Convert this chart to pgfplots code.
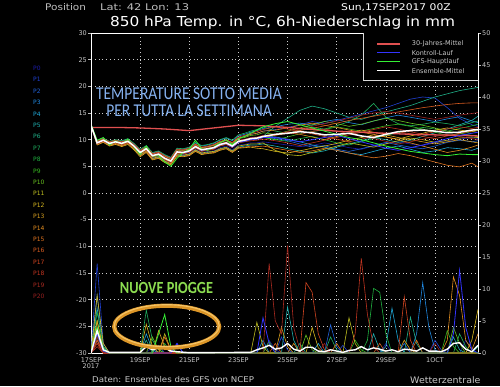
\documentclass[border=0pt]{standalone}
\usepackage{fontspec}
\setmainfont{DejaVu Sans}
\newfontfamily\carlito{Carlito}
\usepackage{pgfplots}
\usepackage{pgfplotstable}
\pgfplotsset{compat=1.18}
\definecolor{p0}{HTML}{1C1CA8}
\definecolor{p1}{HTML}{2040D0}
\definecolor{p2}{HTML}{2062D8}
\definecolor{p3}{HTML}{2088E0}
\definecolor{p4}{HTML}{20A8D8}
\definecolor{p5}{HTML}{20B0B0}
\definecolor{p6}{HTML}{20B088}
\definecolor{p7}{HTML}{20B060}
\definecolor{p8}{HTML}{20B040}
\definecolor{p9}{HTML}{38B820}
\definecolor{p10}{HTML}{68C020}
\definecolor{p11}{HTML}{C0C020}
\definecolor{p12}{HTML}{D8B820}
\definecolor{p13}{HTML}{D8A020}
\definecolor{p14}{HTML}{E08C20}
\definecolor{p15}{HTML}{E07420}
\definecolor{p16}{HTML}{D85C20}
\definecolor{p17}{HTML}{D04420}
\definecolor{p18}{HTML}{C03420}
\definecolor{p19}{HTML}{A82A20}
\definecolor{p20}{HTML}{982020}
\definecolor{ctl}{HTML}{3434FF}
\definecolor{gfs}{HTML}{34F034}
\definecolor{clim}{HTML}{E05050}
\definecolor{ellor}{HTML}{DC9628}
\definecolor{ellhi}{HTML}{F4C468}
\definecolor{tblue}{HTML}{86B2F0}
\definecolor{tgreen}{HTML}{8CDC50}
\definecolor{lgray}{HTML}{C8C8C8}

\pgfplotstableread{
d m0 m1 m2 m3 m4 m5 m6 m7 m8 m9 m10 m11 m12 m13 m14 m15 m16 m17 m18 m19 m20 c g e
0 12.7 12.7 12.7 12.7 12.7 12.7 12.7 12.7 12.7 12.7 12.7 12.7 12.7 12.7 12.7 12.7 12.7 12.7 12.7 12.7 12.7 12.7 12.9 12.7
0.25 9.2 9.5 9.3 9.6 9.4 9.1 9.5 9.8 9.3 9.4 9.6 9.2 9.0 9.3 9.5 9.1 9.4 9.7 9.3 9.2 9.5 9.4 9.9 9.4
0.5 9.7 10.0 9.8 10.1 9.9 9.6 10.2 10.3 9.8 9.9 10.0 9.7 9.5 9.8 10.1 9.6 9.9 10.2 9.7 9.8 10.0 9.9 10.4 9.9
0.75 9.1 9.5 9.2 9.6 9.3 9.0 9.4 9.7 9.2 9.1 9.5 9.0 8.8 9.2 9.4 8.9 9.3 9.6 9.1 9.3 9.4 9.2 9.0 9.3
1 9.4 9.8 9.5 9.9 9.7 9.3 9.6 10.0 9.4 9.5 9.8 9.3 9.1 9.5 9.7 9.2 9.6 9.9 9.4 9.6 9.8 9.6 9.8 9.6
1.25 9.0 9.6 9.2 9.7 9.4 8.9 9.3 9.8 9.1 9.2 9.5 8.9 8.7 9.1 9.5 8.8 9.3 9.6 9.0 9.3 9.4 9.3 9.2 9.3
1.5 9.5 9.9 9.6 10.1 9.8 9.3 9.7 10.2 9.5 9.6 9.9 9.4 9.1 9.6 9.8 9.3 9.7 10.0 9.4 9.7 9.9 9.7 10.1 9.7
1.75 8.5 9.1 8.7 9.2 8.9 8.3 8.8 9.3 8.6 8.7 9.0 8.4 8.1 8.6 9.0 8.3 8.8 9.1 8.5 8.9 9.0 8.8 8.6 8.8
2 7.3 7.9 7.5 8.0 7.7 7.1 7.6 8.2 7.4 7.5 7.8 7.2 6.8 7.4 7.9 7.0 7.6 8.0 7.3 7.7 7.8 7.6 7.2 7.6
2.25 8.0 8.6 8.2 8.8 8.4 7.8 8.3 8.9 8.1 8.2 8.5 7.9 7.6 8.1 8.6 7.7 8.3 8.7 8.0 8.4 8.5 8.3 8.8 8.3
2.5 6.6 7.3 6.9 7.5 7.1 6.4 7.0 7.6 6.8 6.9 7.2 6.5 6.2 6.8 7.3 6.3 7.0 7.4 6.7 7.1 7.2 7.0 6.9 7.0
2.75 6.9 7.6 7.2 7.8 7.4 6.7 7.3 7.9 7.1 7.2 7.5 6.8 6.5 7.1 7.6 6.6 7.3 7.7 7.0 7.4 7.5 7.3 7.0 7.3
3 6.1 6.9 6.4 7.1 6.6 5.9 6.5 7.2 6.3 6.4 6.8 6.0 5.7 6.3 6.9 5.8 6.5 7.0 6.2 6.6 6.7 6.5 5.8 6.5
3.25 5.6 6.4 5.9 6.6 6.1 5.4 6.0 6.7 5.8 5.9 6.3 5.5 5.3 5.8 6.4 5.4 6.0 6.5 5.7 6.1 6.2 6.0 5.0 6.0
3.5 7.3 8.1 7.6 8.3 7.8 7.1 7.7 8.4 7.5 7.6 8.0 7.2 6.9 7.5 8.1 7.0 7.7 8.2 7.4 7.8 7.9 7.7 6.5 7.7
3.75 7.2 8.0 7.5 8.2 7.7 7.0 7.6 8.3 7.4 7.5 7.9 7.1 6.8 7.4 8.0 6.9 7.6 8.1 7.3 7.7 7.8 7.5 7.6 7.6
4 7.4 8.3 7.8 8.5 8.0 7.2 7.9 8.6 7.7 7.8 8.2 7.3 7.0 7.7 8.3 7.1 7.9 8.4 7.6 8.0 8.1 7.8 8.2 7.9
4.25 8.2 9.1 8.6 9.4 8.8 8.0 8.7 9.5 8.5 8.6 9.0 8.1 7.8 8.5 9.1 7.9 8.7 9.2 8.4 8.8 8.9 8.7 9.9 8.7
4.5 7.6 8.5 8.0 8.8 8.2 7.4 8.1 8.9 7.9 8.0 8.4 7.5 7.2 7.9 8.5 7.3 8.1 8.6 7.8 8.2 8.3 8.0 8.3 8.1
4.75 7.8 8.7 8.2 9.0 8.4 7.6 8.3 9.1 8.1 8.2 8.6 7.7 7.4 8.1 8.7 7.5 8.3 8.8 8.0 8.4 8.5 8.2 8.0 8.3
5 7.9 9.0 8.4 9.3 8.6 7.7 8.5 9.4 8.3 8.4 8.9 7.8 7.5 8.3 9.0 7.6 8.5 9.1 8.2 8.6 8.7 8.4 8.6 8.5
5.25 8.5 9.6 9.0 9.9 9.2 8.2 9.1 10.0 8.9 9.0 9.5 8.3 8.0 8.9 9.6 8.1 9.1 9.7 8.8 9.2 9.3 9.0 9.4 9.1
5.5 8.8 9.9 9.3 10.3 9.5 8.5 9.4 10.4 9.2 9.3 9.8 8.6 8.3 9.2 9.9 8.4 9.4 10.0 9.1 9.5 9.6 9.3 10.0 9.4
5.75 8.1 9.4 8.7 9.8 8.9 7.8 8.8 9.9 8.6 8.7 9.2 7.9 7.6 8.6 9.4 7.7 8.8 9.5 8.5 8.9 9.0 8.6 9.0 8.8
6 9.0 10.3 9.6 10.7 9.8 8.6 9.7 10.9 9.5 9.6 10.2 8.8 8.4 9.5 10.3 8.5 9.7 10.5 9.4 9.8 9.9 9.5 10.2 9.7
6.25 9.1 10.6 9.8 11.0 10.0 8.8 9.9 11.2 9.7 9.8 10.4 9.0 8.5 9.7 10.6 8.6 9.9 10.8 9.6 10.0 10.1 9.7 10.6 9.9
6.5 9.4 11.0 10.1 11.4 10.3 9.0 10.2 11.6 10.0 10.1 10.8 9.2 8.6 10.0 11.0 8.8 10.2 11.2 9.8 10.3 10.4 10.0 11.2 10.2
6.75 9.4 11.2 10.2 11.7 10.4 9.0 10.3 11.9 10.1 10.2 10.9 9.2 8.4 10.1 11.2 8.7 10.3 11.5 9.9 10.4 10.5 10.1 11.8 10.3
7 9.6 11.6 10.5 12.1 10.7 9.2 10.6 12.4 10.4 10.5 11.3 9.4 8.3 10.4 11.6 8.8 10.6 11.9 10.1 10.7 10.8 10.4 12.4 10.6
7.5 9.3 11.9 10.2 12.4 10.5 8.8 12.5 11.6 10.0 10.0 11.0 8.0 7.8 10.9 11.8 8.4 10.8 12.4 9.8 10.9 11.0 10.4 13.0 11.0
8 9.0 12.3 9.8 12.9 10.1 8.3 14.0 11.2 9.7 10.5 11.6 7.2 7.5 11.3 12.2 8.0 11.2 12.0 9.4 11.4 11.5 10.0 13.4 11.2
8.5 8.7 12.8 9.2 13.1 9.6 7.9 15.5 11.8 10.2 11.1 12.2 7.0 7.9 11.0 12.7 7.6 11.7 11.6 8.9 11.0 12.0 9.6 12.8 11.5
9 8.9 13.4 8.6 12.7 9.0 7.5 16.3 12.3 10.6 11.5 12.8 7.6 8.4 10.5 13.1 7.9 12.1 11.1 9.4 11.5 12.5 10.0 12.2 11.3
9.5 9.4 13.0 8.9 13.4 8.6 7.9 15.8 12.0 10.0 11.9 13.4 8.2 8.8 10.0 12.7 8.4 12.6 10.6 9.9 12.0 13.0 10.4 11.6 10.9
10 9.0 13.6 8.2 13.8 8.0 8.6 15.0 12.6 9.4 12.4 13.0 8.8 9.3 10.6 12.3 8.0 13.1 10.1 10.4 11.6 13.5 10.8 11.0 11.0
10.5 8.5 14.2 7.8 13.2 7.5 9.2 14.2 13.4 9.0 12.0 12.5 9.4 9.9 11.2 11.8 7.5 13.6 9.6 10.9 11.1 14.0 10.2 10.4 11.2
11 8.2 14.8 8.3 12.8 7.2 9.8 13.8 14.6 9.6 11.6 12.9 9.0 10.4 11.8 11.4 7.0 14.0 10.1 11.4 10.7 14.6 9.6 10.0 10.7
11.5 8.8 15.4 8.9 13.5 7.8 10.4 14.5 16.8 10.2 12.1 13.5 8.6 10.9 11.4 11.0 6.6 14.4 10.6 11.9 10.2 15.0 9.0 9.4 10.4
12 9.3 16.0 9.5 14.1 8.4 10.0 15.2 14.2 10.8 12.6 14.0 9.2 10.5 10.9 10.5 6.9 14.8 11.0 12.4 9.7 15.3 8.4 8.8 11.0
12.5 9.6 16.8 9.0 14.6 8.8 9.5 15.8 13.0 11.3 12.9 13.6 9.8 10.1 10.4 10.0 7.4 15.2 11.5 12.0 9.2 15.0 8.0 8.3 11.5
13 9.2 17.6 8.6 14.2 8.2 9.9 16.4 12.6 11.8 12.5 13.1 10.3 10.7 10.0 9.4 7.0 15.6 11.1 11.5 9.6 14.6 8.5 7.8 11.7
13.5 8.9 18.0 8.3 13.8 7.6 10.6 17.2 12.9 12.3 12.0 12.7 10.0 11.2 9.6 8.8 6.4 16.0 10.6 11.0 10.1 14.2 9.0 7.5 11.8
14 9.4 17.8 8.8 13.4 7.9 11.3 18.0 13.3 12.0 11.4 12.2 9.5 11.8 9.2 8.2 5.8 16.3 10.2 11.5 10.6 13.8 9.6 7.2 11.6
14.5 9.8 16.0 9.5 13.9 8.5 12.0 18.6 13.0 11.6 10.8 11.6 9.9 12.2 9.6 7.6 5.2 16.6 10.7 12.0 11.0 14.2 10.2 7.0 11.3
15 10.1 14.0 9.9 14.3 8.3 12.8 19.2 12.6 12.1 11.1 11.2 10.3 11.8 10.0 8.0 4.9 16.8 11.2 12.4 10.6 14.6 10.8 7.3 11.4
15.5 10.4 12.8 9.6 13.5 8.0 13.6 19.6 13.2 12.6 11.5 10.8 10.5 11.5 9.6 8.6 5.6 16.9 11.6 12.1 10.2 14.9 11.2 7.2 11.8
15.75 10.2 12.5 9.8 13.2 8.4 14.4 19.8 13.5 12.9 11.8 10.6 10.4 11.7 9.4 9.0 4.9 16.9 11.9 12.3 10.0 15.1 11.4 7.2 11.9
}\temps

\begin{document}
\begin{tikzpicture}[x=1pt,y=1pt]
\fill[black] (0,0) rectangle (500,386);

% ---------- temperature axis ----------
\begin{axis}[
  at={(91pt,33pt)}, anchor=south west,
  width=387pt, height=320pt, scale only axis,
  xmin=0, xmax=15.75, ymin=-30, ymax=30,
  axis line style={white, line width=0.8pt},
  xtick={0,2,...,14},
  xticklabels={{17SEP\\2017},19SEP,21SEP,23SEP,25SEP,27SEP,29SEP,1OCT},
  ytick={-30,-25,...,30},
  ytick pos=left,
  xtick style={draw=none},
  ytick style={white!75!black, line width=0.5pt},
  tick align=outside, major tick length=3pt,
  xmajorgrids, ymajorgrids,
  grid style={white!80!black, line width=0.5pt, dash pattern=on 0.8pt off 3pt},
  /pgf/number format/assume math mode=true,
  yticklabel style={font=\fontsize{6.5}{7}\selectfont, text=lgray, inner sep=1pt},
  xticklabel style={font=\fontsize{6.5}{6.5}\selectfont, text=lgray, align=center, inner sep=1pt},
  clip=true,
]
\pgfplotsinvokeforeach{0,...,20}{
  \addplot[p#1, line width=0.6pt] table[x=d, y=m#1]{\temps};
}
\addplot[clim, line width=1.3pt] coordinates {(0,12.3)(1,12.3)(2,12.2)(3,12.0)(4,11.7)(5,12.2)(6,12.7)(7,12.6)(8,12.3)(9,11.9)(10,11.6)(11,11.4)(12,11.2)(13,11.0)(14,10.9)(15,10.8)(15.75,10.7)};
\addplot[ctl, line width=0.8pt] table[x=d, y=c]{\temps};
\addplot[gfs, line width=0.8pt] table[x=d, y=g]{\temps};
\addplot[white, line width=1.5pt] table[x=d, y=e]{\temps};
\end{axis}

% ---------- precipitation axis ----------
\begin{axis}[
  at={(91pt,33pt)}, anchor=south west,
  width=387pt, height=320pt, scale only axis,
  xmin=0, xmax=15.75, ymin=0, ymax=50,
  axis line style={white, line width=0.8pt},
  xtick=\empty,
  ytick={0,5,...,50},
  ytick pos=right, yticklabel pos=right,
  ytick style={white!75!black, line width=0.5pt},
  tick align=outside, major tick length=3pt,
  /pgf/number format/assume math mode=true,
  yticklabel style={font=\fontsize{6.5}{7}\selectfont, text=lgray, inner sep=1pt},
]
\addplot[p0, line width=0.6pt] coordinates {(0,0)(0.25,3)(0.5,0.3)(0.75,0)(2.25,0)(2.5,1)(2.75,0)(7,0)(7.25,2)(7.5,0.5)(7.75,0)(11.75,0)(12,1.5)(12.25,0)(15,0)(15.25,2)(15.5,0.5)(15.75,0)};
\addplot[p1, line width=0.6pt] coordinates {(0,0)(0.25,14)(0.5,1.5)(0.75,0)(3.25,0)(3.5,1.5)(3.75,0)(7.5,0)(7.75,2.5)(8,0.5)(8.25,0)(10,0)(10.25,1.2)(10.5,0)(13.75,0)(14,2)(14.25,0.5)(14.5,0)(15.75,0)};
\addplot[p2, line width=0.6pt] coordinates {(0,0)(0.25,4)(0.5,0.5)(0.75,0)(2.5,0)(2.75,1.2)(3,0)(9.5,0)(9.75,4.4)(10,1)(10.25,0)(12.5,0)(12.75,1.5)(13,0)(15.75,0)};
\addplot[p3, line width=0.6pt] coordinates {(0,0)(0.25,9)(0.5,1)(0.75,0)(6.75,0)(7,2)(7.25,0)(13,0)(13.25,3)(13.5,11)(13.75,4)(14,0.5)(14.25,0)(15.75,0)};
\addplot[p4, line width=0.6pt] coordinates {(0,0)(0.25,7)(0.5,0.8)(0.75,0)(2,0)(2.25,3)(2.5,0.5)(2.75,0)(9,0)(9.25,1.5)(9.5,0)(11.75,0)(12,1)(12.25,7)(12.5,2)(12.75,0)(15.75,0)};
\addplot[p5, line width=0.6pt] coordinates {(0,0)(0.25,2)(0.5,0)(7.75,0)(8,7.2)(8.25,2)(8.5,0)(11.25,0)(11.5,3)(11.75,0.5)(12,0)(14.5,0)(14.75,2.5)(15,0.5)(15.25,0)(15.75,0)};
\addplot[p6, line width=0.6pt] coordinates {(0,0)(0.25,5)(0.5,0.5)(0.75,0)(2,0)(2.25,2)(2.5,0)(8.25,0)(8.5,1.5)(8.75,0)(12.75,0)(13,5.6)(13.25,1.5)(13.5,0)(15.5,0)(15.75,1)};
\addplot[p7, line width=0.6pt] coordinates {(0,0)(0.25,3)(0.5,0)(2,0)(2.25,6.7)(2.5,2)(2.75,0.5)(3,0)(9.5,0)(9.75,2.5)(10,0.5)(10.25,0)(14.75,0)(15,3)(15.25,1)(15.5,0)(15.75,0)};
\addplot[p8, line width=0.6pt] coordinates {(0,0)(0.25,6.4)(0.5,1)(0.75,0)(2.75,0)(3,1.5)(3.25,0)(11,0)(11.25,2)(11.5,10.1)(11.75,9.5)(12,3)(12.25,0)(15.75,0)};
\addplot[p9, line width=0.6pt] coordinates {(0,0)(0.25,2.5)(0.5,0.3)(0.75,0)(7,0)(7.25,1.8)(7.5,0)(10.5,0)(10.75,2)(11,0.5)(11.25,0)(14.25,0)(14.5,3.5)(14.75,1)(15,0)(15.75,0)};
\addplot[p10, line width=0.6pt] coordinates {(0,0)(0.25,4)(0.5,0.5)(0.75,0)(2.25,0)(2.5,2.5)(2.75,0.5)(3,0)(8.5,0)(8.75,2.8)(9,0.5)(9.25,0)(14.5,0)(14.75,4)(15,1.5)(15.25,0)(15.75,0)};
\addplot[p11, line width=0.6pt] coordinates {(0,0)(0.25,5)(0.5,0.5)(0.75,0)(2.75,0)(3,3)(3.25,0.5)(3.5,0)(6.5,0)(6.75,4.8)(7,1)(7.25,0)(10.25,0)(10.5,5.5)(10.75,1.5)(11,0)(15.75,0)};
\addplot[p12, line width=0.6pt] coordinates {(0,0)(0.25,9)(0.5,1.5)(0.75,0)(2,0)(2.25,4.5)(2.5,1)(2.75,0)(8.75,0)(9,4)(9.25,0.8)(9.5,0)(15.25,0)(15.5,2)(15.75,6.8)};
\addplot[p13, line width=0.6pt] coordinates {(0,0)(0.25,5)(0.5,0.5)(0.75,0)(2.5,0)(2.75,3.5)(3,1)(3.25,0)(7.5,0)(7.75,4)(8,1)(8.25,0)(12.5,0)(12.75,2)(13,0.5)(13.25,0)(15.75,0)};
\addplot[p14, line width=0.6pt] coordinates {(0,0)(0.25,3)(0.5,0.3)(0.75,0)(8,0)(8.25,1.5)(8.5,0)(14.25,0)(14.5,2)(14.75,11.9)(15,9)(15.25,2)(15.5,0.5)(15.75,3)};
\addplot[p15, line width=0.6pt] coordinates {(0,0)(0.25,2)(0.5,0)(2.75,0)(3,2.5)(3.25,0.5)(3.5,0)(9.75,0)(10,1.5)(10.25,0)(13,0)(13.25,2)(13.5,0)(15.75,0)};
\addplot[p16, line width=0.6pt] coordinates {(0,0)(0.25,1.5)(0.5,0)(7.25,0)(7.5,1.5)(7.75,0)(11.5,0)(11.75,1.5)(12,0)(15.75,0)};
\addplot[p17, line width=0.6pt] coordinates {(0,0)(0.25,2)(0.5,0)(8.5,0)(8.75,11)(9,9.5)(9.25,3)(9.5,0.5)(9.75,0)(12.5,0)(12.75,8.8)(13,2)(13.25,0)(15.75,0)};
\addplot[p18, line width=0.6pt] coordinates {(0,0)(0.25,1)(0.5,0)(10.5,0)(10.75,3)(11,14.8)(11.25,6)(11.5,1)(11.75,0)(15.75,0)};
\addplot[p19, line width=0.6pt] coordinates {(0,0)(0.25,1.5)(0.5,0)(7,0)(7.25,14)(7.5,5)(7.75,3)(8,16.8)(8.25,4)(8.5,0.5)(8.75,0)(15.75,0)};
\addplot[p20, line width=0.6pt] coordinates {(0,0)(0.25,2.5)(0.5,0)(9.25,0)(9.5,1.5)(9.75,0)(13.75,0)(14,1.5)(14.25,0)(15.75,0)};
\addplot[ctl, line width=0.8pt] coordinates {(0,0)(0.25,3)(0.5,0.3)(0.75,0)(3.25,0)(3.5,1.5)(3.75,0)(6.75,0)(7,5.5)(7.25,1.5)(7.5,0)(14.5,0)(14.75,3)(15,12.9)(15.25,4)(15.5,0.5)(15.75,0)};
\addplot[gfs, line width=0.8pt] coordinates {(0,0)(0.25,4)(0.5,0.5)(0.75,0)(2.5,0)(2.75,3)(3,6)(3.25,1)(3.5,0)(15.75,0)};
\addplot[white, line width=1.4pt] coordinates {(0,0)(0.25,3.5)(0.5,0.5)(0.75,0.1)(2,0.1)(2.25,1)(2.5,0.5)(2.75,0.8)(3,0.8)(3.25,0.3)(3.5,0.2)(4,0.05)(6.5,0.1)(6.75,0.5)(7,0.8)(7.25,1.2)(7.5,0.6)(7.75,0.8)(8,1.5)(8.25,0.6)(8.5,0.3)(8.75,0.9)(9,0.9)(9.25,0.3)(9.5,0.2)(9.75,0.5)(10,0.3)(10.25,0.1)(10.5,0.4)(10.75,0.5)(11,1)(11.25,0.5)(11.5,0.8)(11.75,0.6)(12,0.3)(12.25,0.5)(12.5,0.2)(12.75,0.6)(13,0.5)(13.25,0.3)(13.5,0.8)(13.75,0.3)(14,0.3)(14.25,0.2)(14.5,0.6)(14.75,1.5)(15,1.6)(15.25,0.6)(15.5,0.2)(15.75,1.2)};
\end{axis}

% ---------- legend box ----------
\fill[black] (363.3,353) rectangle (478,306);
\draw[white!85!black, line width=0.6pt] (363.3,353) -- (363.3,306) -- (478,306);
\begin{scope}[font=\fontsize{6.5}{7}\selectfont]
\draw[clim, line width=1.5pt] (377,342) -- (400,342);
\node[anchor=west, inner sep=0, text=lgray] at (411.7,342) {30-Jahres-Mittel};
\draw[ctl, line width=1.5pt] (377,333.3) -- (400,333.3);
\node[anchor=west, inner sep=0, text=lgray] at (411.7,333.3) {Kontroll-Lauf};
\draw[gfs, line width=1.5pt] (377,324.3) -- (400,324.3);
\node[anchor=west, inner sep=0, text=lgray] at (411.7,324.3) {GFS-Hauptlauf};
\draw[white, line width=1.5pt] (377,315.3) -- (400,315.3);
\node[anchor=west, inner sep=0, text=lgray] at (411.7,315.3) {Ensemble-Mittel};
\end{scope}

% ---------- member labels ----------
\begin{scope}[font=\fontsize{6}{6}\selectfont]
\foreach \i in {0,...,20}{
  \node[anchor=west, inner sep=0, text=p\i] at (33,386-68.3-11.4*\i) {P\i};
}
\end{scope}

% ---------- titles ----------
\node[anchor=base west, inner sep=0, text=white!75!black, font=\fontsize{9.2}{10}\selectfont] at (45,375) {\scalebox{1.14}[1]{Position}};
\node[anchor=base west, inner sep=0, text=white!75!black, font=\fontsize{9.2}{10}\selectfont] at (100,375) {\scalebox{1.25}[1]{Lat: 42}};
\node[anchor=base west, inner sep=0, text=white!75!black, font=\fontsize{9.2}{10}\selectfont] at (145,375) {\scalebox{1.25}[1]{Lon: 13}};
\node[anchor=base west, inner sep=0, text=white, font=\fontsize{9.2}{10}\selectfont] at (341,375) {\scalebox{1.17}[1]{Sun,17SEP2017 00Z}};
\node[anchor=base, inner sep=0, text=white, font=\fontsize{13.7}{15}\selectfont] at (282.5,359.3) {\scalebox{1.12}[1]{850 hPa Temp. in °C, 6h-Niederschlag in mm}};
\node[anchor=base west, inner sep=0, text=lgray, font=\fontsize{8}{9}\selectfont] at (92,3.4) {\scalebox{1.08}[1]{Daten: Ensembles des GFS von NCEP}};
\node[anchor=base west, inner sep=0, text=lgray, font=\fontsize{9}{10}\selectfont] at (410,2.2) {\scalebox{1.05}[1]{Wetterzentrale}};

% ---------- overlays ----------
\node[anchor=base, inner sep=0, text=tblue, font=\carlito\fontsize{18}{18}\selectfont] at (189,286) {\scalebox{0.86}[1]{TEMPERATURE SOTTO MEDIA}};
\node[anchor=base, inner sep=0, text=tblue, font=\carlito\fontsize{18}{18}\selectfont] at (189,269.3) {\scalebox{0.86}[1]{PER TUTTA LA SETTIMANA}};
\node[anchor=base, inner sep=0, text=tgreen, font=\carlito\bfseries\fontsize{17}{17}\selectfont] at (166.5,93) {\scalebox{0.84}[1]{NUOVE PIOGGE}};
\draw[ellor, line width=4.2pt] (166.7,59.3) ellipse [x radius=52.5, y radius=21];
\draw[ellhi, line width=1.1pt] (166.7,60.3) ellipse [x radius=52.5, y radius=21];

\pgfresetboundingbox
\path (0,0) rectangle (500,386);
\end{tikzpicture}
\end{document}
